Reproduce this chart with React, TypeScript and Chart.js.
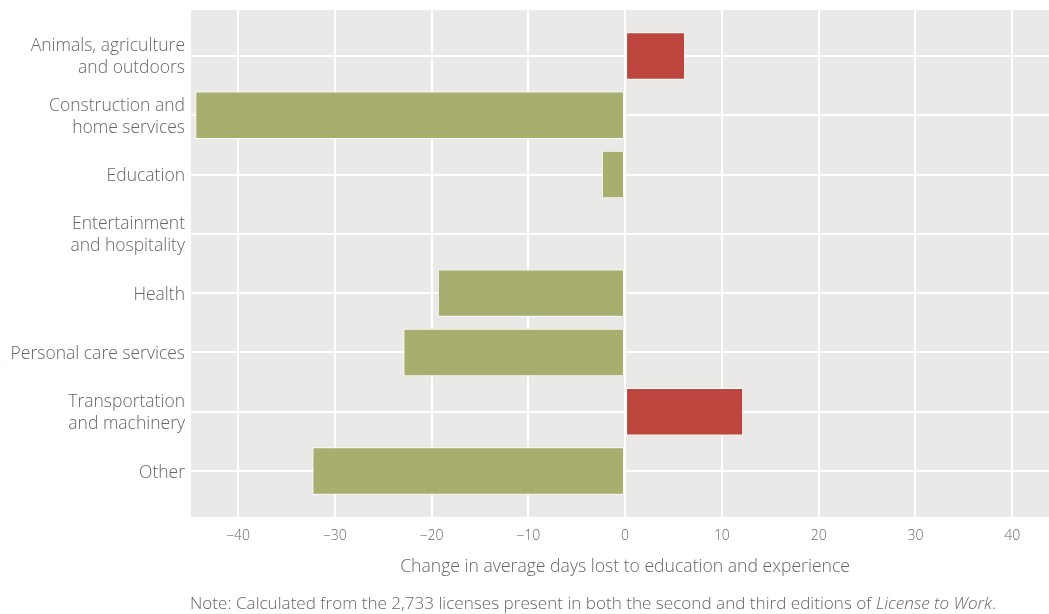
import React, { useEffect, useRef } from "react";
import { Chart, registerables } from "chart.js";

Chart.register(...registerables);

const categories: string[] = [
  "Animals, agriculture\nand outdoors",
  "Construction and\nhome services",
  "Education",
  "Entertainment\nand hospitality",
  "Health",
  "Personal care services",
  "Transportation\nand machinery",
  "Other",
];
const changeDays: number[] = [6.2, -44.4, -2.4, 0, -19.35, -22.9, 12.2, -32.3];
const xTicks: number[] = [-40, -30, -20, -10, 0, 10, 20, 30, 40];
const xTitle = "Change in average days lost to education and experience";
const noteMain = "Note: Calculated from the 2,733 licenses present in both the second and third editions of ";
const noteItalic = "License to Work";
const noteEnd = ".";

const FONT = "'Open Sans', 'DejaVu Sans', sans-serif";
const TEXT = "#6e6262";
const PANEL = "#ebe9e7";
const GREEN = "#a8ae6e";
const RED = "#bc463d";

export default function App() {
  const ref = useRef<HTMLCanvasElement | null>(null);
  useEffect(() => {
    document.body.style.margin = "0";
    const canvas = ref.current!;
    const panelBg = {
      id: "panelBg",
      beforeDraw(chart: any) {
        const { ctx, chartArea } = chart;
        ctx.save();
        ctx.fillStyle = PANEL;
        ctx.fillRect(chartArea.left, chartArea.top, chartArea.right - chartArea.left, chartArea.bottom - chartArea.top);
        ctx.restore();
      },
    };
    const texts = {
      id: "texts",
      afterDraw(chart: any) {
        const { ctx, chartArea, scales } = chart;
        ctx.save();
        ctx.fillStyle = TEXT;
        ctx.textBaseline = "middle";
        ctx.font = `300 17.6px ${FONT}`;
        ctx.textAlign = "center";
        ctx.fillText(xTitle, scales.x.getPixelForValue(0), 567);
        ctx.textAlign = "left";
        let x = chartArea.left - 1;
        ctx.font = `300 17.1px ${FONT}`;
        ctx.fillText(noteMain, x, 604);
        x += ctx.measureText(noteMain).width;
        ctx.font = `italic 300 17.1px ${FONT}`;
        ctx.fillText(noteItalic, x, 604);
        x += ctx.measureText(noteItalic).width;
        ctx.font = `300 17.1px ${FONT}`;
        ctx.fillText(noteEnd, x, 604);
        ctx.restore();
      },
    };
    const chart = new Chart(canvas, {
      type: "bar",
      data: {
        datasets: [
          {
            data: changeDays.map((v, i) => ({ x: v, y: i + 1 })) as any,
            backgroundColor: changeDays.map((v) => (v > 0 ? RED : GREEN)),
            borderColor: "#ffffff",
            borderWidth: 1,
            borderSkipped: false,
            categoryPercentage: 1,
            barPercentage: 0.8,
          },
        ],
      },
      plugins: [panelBg, texts],
      options: {
        indexAxis: "y",
        animation: false,
        responsive: false,
        layout: { padding: { top: 10, left: 0, right: 0, bottom: 0 } },
        plugins: { legend: { display: false }, tooltip: { enabled: false } },
        scales: {
          x: {
            type: "linear",
            min: -44.85,
            max: 43.8,
            offset: false,
            afterBuildTicks(scale: any) {
              scale.ticks = xTicks.map((v) => ({ value: v }));
            },
            afterFit(scale: any) {
              scale.height = 97;
              scale.paddingLeft = 0;
              scale.paddingRight = 0;
            },
            grid: { color: "#ffffff", lineWidth: 2, drawTicks: false, offset: false },
            border: { display: false },
            ticks: {
              padding: 11,
              color: TEXT,
              font: { family: FONT, size: 14, weight: "300" as any },
              callback: (v: any) => (Number(v) < 0 ? "\u2212" + Math.abs(Number(v)) : String(v)),
            },
          },
          y: {
            type: "linear",
            reverse: true,
            min: 0.225,
            max: 8.775,
            offset: false,
            afterBuildTicks(scale: any) {
              scale.ticks = categories.map((_, i) => ({ value: i + 1 }));
            },
            afterFit(scale: any) {
              scale.width = 191;
              scale.paddingTop = 0;
              scale.paddingBottom = 0;
            },
            grid: { color: "#ffffff", lineWidth: 2, drawTicks: false, offset: false },
            border: { display: false },
            ticks: {
              padding: 6,
              labelOffset: 1.5,
              color: TEXT,
              font: { family: FONT, size: 17.5, weight: "300" as any, lineHeight: "22px" as any },
              callback: (v: any) => {
                const c = categories[Math.round(Number(v)) - 1];
                return c ? c.split("\n") : "";
              },
            },
          },
        },
      },
    });
    return () => chart.destroy();
  }, []);
  return (
    <div style={{ width: 1049, height: 614, overflow: "hidden" }}>
      <canvas ref={ref} width={1049} height={614} style={{ display: "block" }} />
    </div>
  );
}
